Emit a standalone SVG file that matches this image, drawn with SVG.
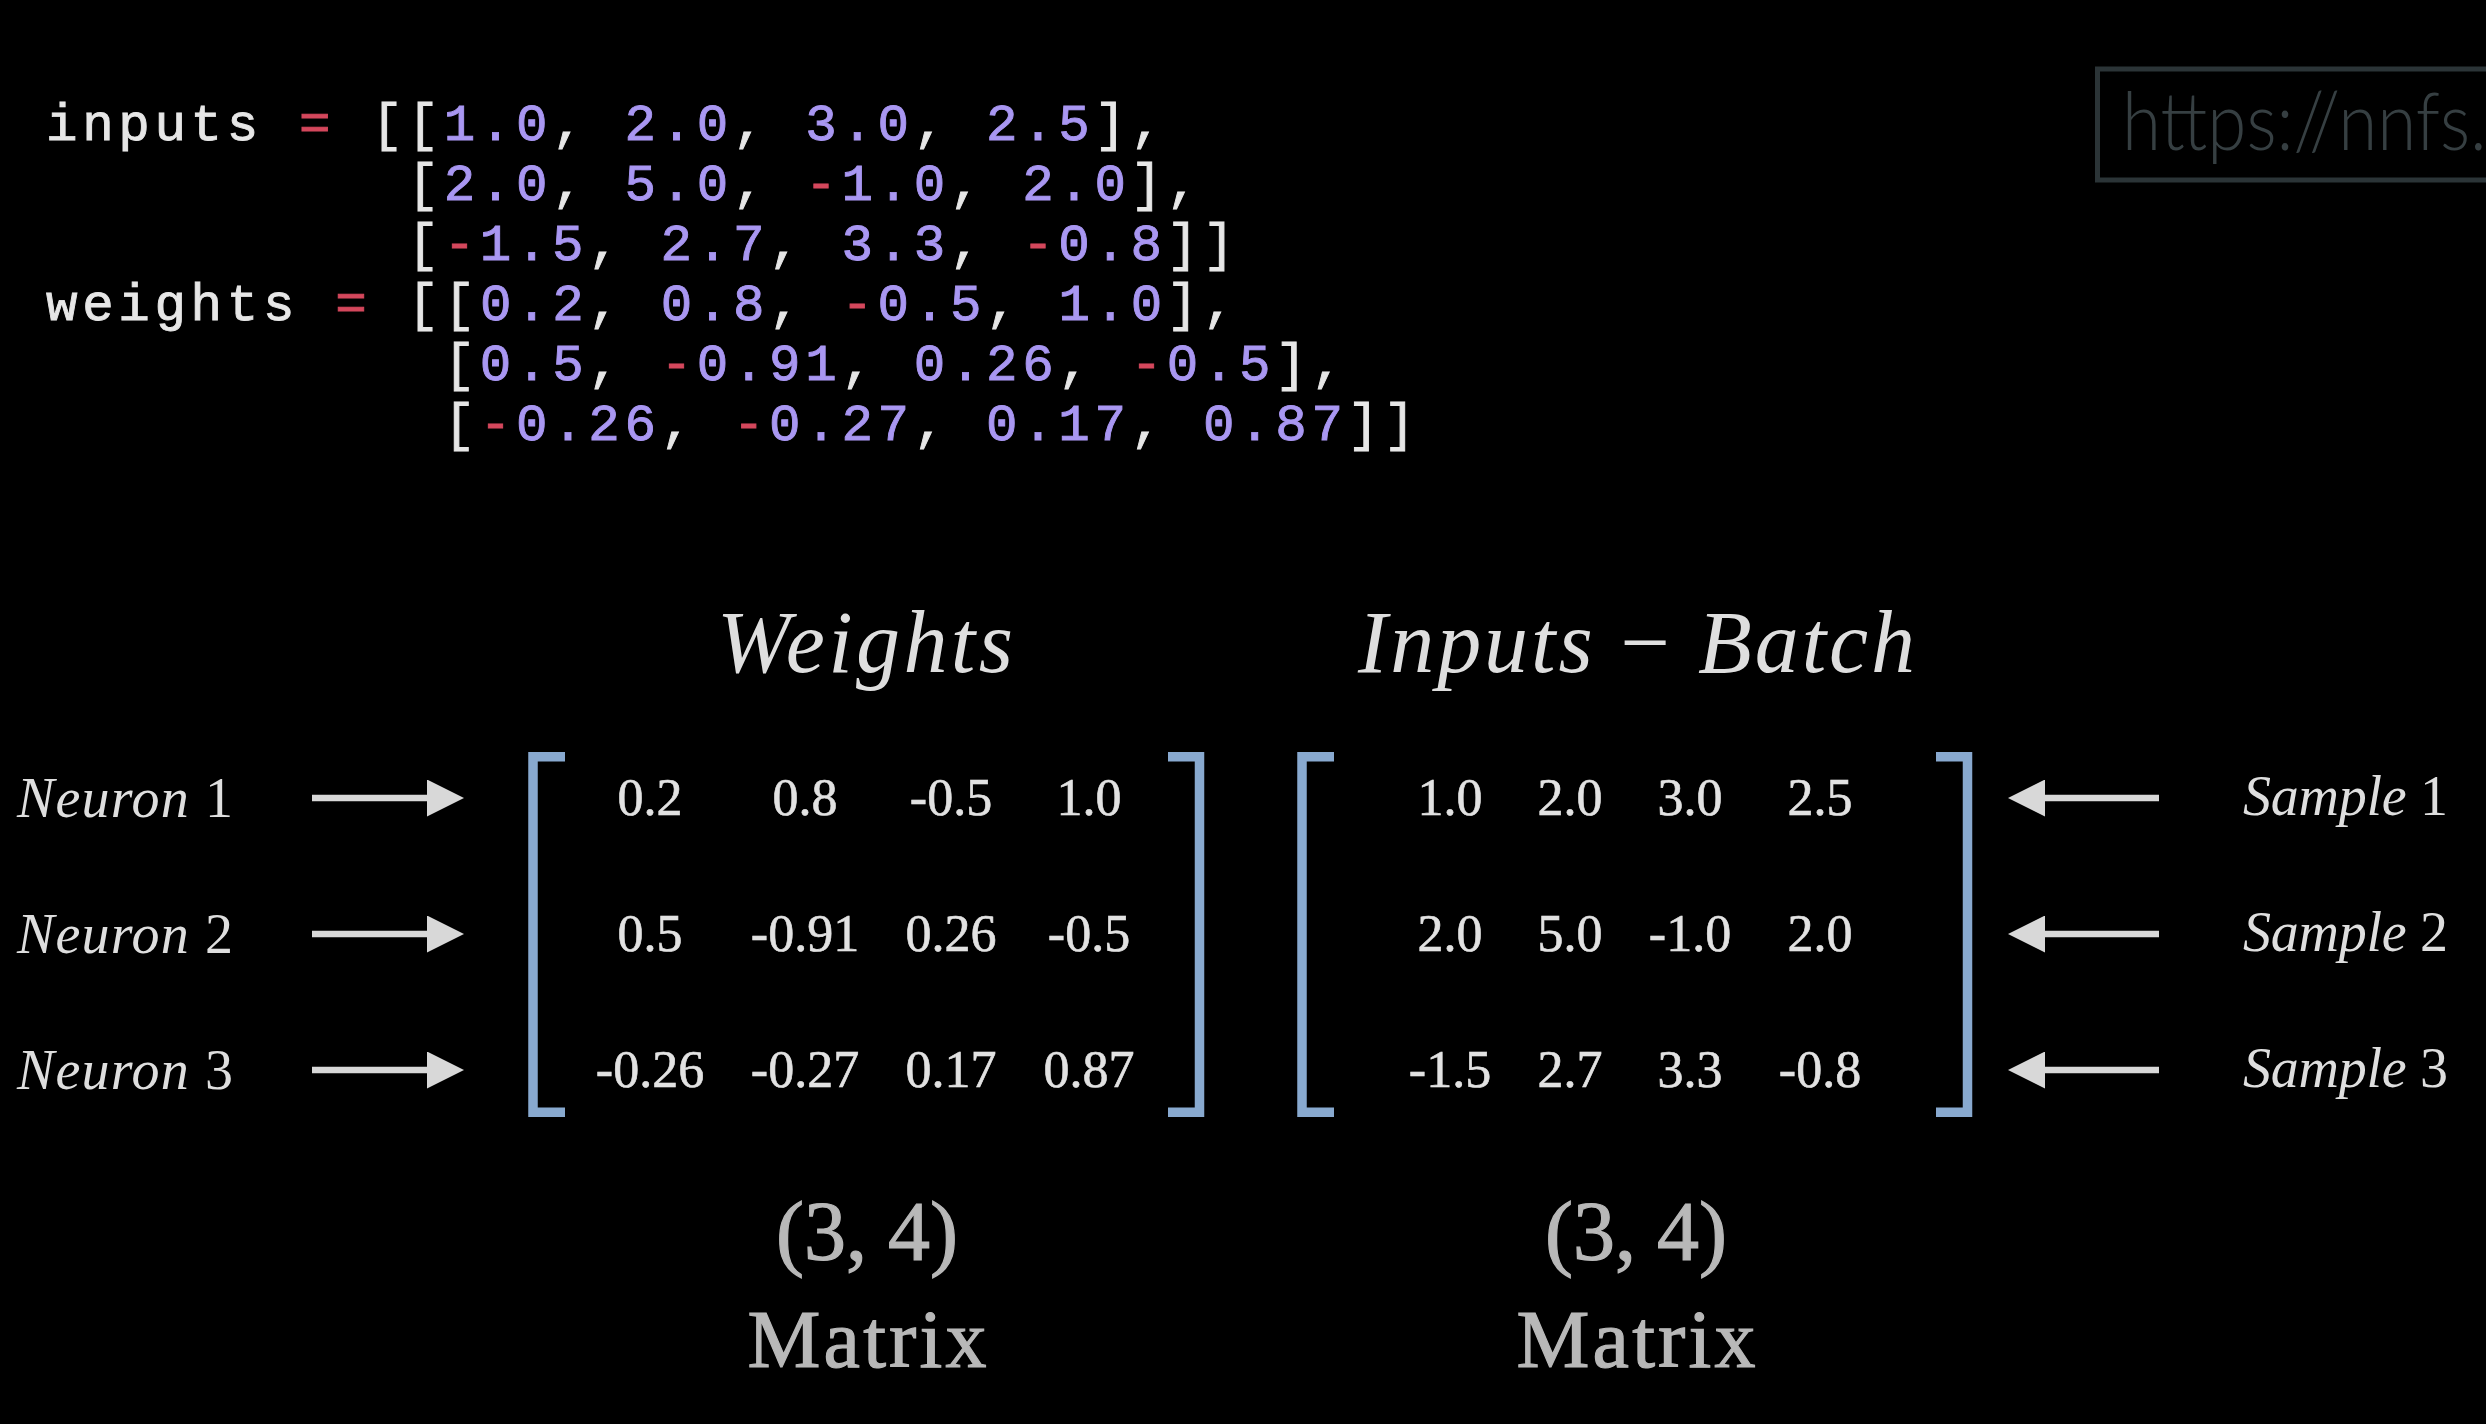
<svg xmlns="http://www.w3.org/2000/svg" width="2486" height="1424" viewBox="0 0 2486 1424">
<defs>
<style>
.code{font-family:"Liberation Mono",monospace;font-size:52.5px;letter-spacing:4.65px;fill:#e6e6e6;stroke:#e6e6e6;stroke-width:0.9}
.num{fill:#a997f2;stroke:#a997f2}
.op{fill:#d4475c;stroke:#d4475c}
.mi{font-family:"Liberation Serif",serif;font-style:italic;fill:#dedede}
.rm{font-style:normal}
.cell{font-family:"Liberation Serif",serif;font-size:52px;fill:#e2e2e2;stroke:#e2e2e2;stroke-width:0.6;text-anchor:middle}
.brk{fill:none;stroke:#88a9cf;stroke-width:9.5}
.arrow{stroke:#d8d8d8;stroke-width:6.5;fill:none}
.shape{font-family:"Liberation Serif",serif;fill:#b8b8b8;stroke:#b8b8b8;stroke-width:1.2;text-anchor:middle}
</style>
<marker id="head" viewBox="0 0 37 37" markerWidth="37" markerHeight="37" markerUnits="userSpaceOnUse" refX="0" refY="18.5" orient="auto"><path d="M0,0 L37,18.5 L0,37 Z" fill="#d8d8d8"/></marker>
</defs>
<rect width="2486" height="1424" fill="#000"/>

<g id="watermark">
<rect x="2097.5" y="69" width="420" height="111" fill="none" stroke="#2b3437" stroke-width="5"/>
<text x="2122" y="150" font-family="Lato, 'Open Sans', sans-serif" font-weight="300" font-size="80" fill="#363f42" textLength="420" lengthAdjust="spacingAndGlyphs">https://nnfs.io</text>
</g>

<g id="code" class="code" xml:space="preserve">
<text x="46" y="140">inputs <tspan class="op">=</tspan> [[<tspan class="num">1.0</tspan>, <tspan class="num">2.0</tspan>, <tspan class="num">3.0</tspan>, <tspan class="num">2.5</tspan>],</text>
<text x="407.5" y="200">[<tspan class="num">2.0</tspan>, <tspan class="num">5.0</tspan>, <tspan class="op">-</tspan><tspan class="num">1.0</tspan>, <tspan class="num">2.0</tspan>],</text>
<text x="407.5" y="260">[<tspan class="op">-</tspan><tspan class="num">1.5</tspan>, <tspan class="num">2.7</tspan>, <tspan class="num">3.3</tspan>, <tspan class="op">-</tspan><tspan class="num">0.8</tspan>]]</text>
<text x="46" y="320">weights <tspan class="op">=</tspan> [[<tspan class="num">0.2</tspan>, <tspan class="num">0.8</tspan>, <tspan class="op">-</tspan><tspan class="num">0.5</tspan>, <tspan class="num">1.0</tspan>],</text>
<text x="443.7" y="380">[<tspan class="num">0.5</tspan>, <tspan class="op">-</tspan><tspan class="num">0.91</tspan>, <tspan class="num">0.26</tspan>, <tspan class="op">-</tspan><tspan class="num">0.5</tspan>],</text>
<text x="443.7" y="440">[<tspan class="op">-</tspan><tspan class="num">0.26</tspan>, <tspan class="op">-</tspan><tspan class="num">0.27</tspan>, <tspan class="num">0.17</tspan>, <tspan class="num">0.87</tspan>]]</text>
</g>

<g id="weights-title"><text class="mi" x="717" y="672" font-size="88" textLength="296" lengthAdjust="spacing">Weights</text></g>
<g id="inputs-title"><text class="mi" x="1358" y="672" font-size="88" textLength="557" lengthAdjust="spacing">Inputs <tspan class="rm">−</tspan> Batch</text></g>

<g id="neuron-1"><text class="mi" x="17" y="817" font-size="56" textLength="216" lengthAdjust="spacing">Neuron<tspan class="rm"> 1</tspan></text></g>
<g id="neuron-2"><text class="mi" x="17" y="953" font-size="56" textLength="216" lengthAdjust="spacing">Neuron<tspan class="rm"> 2</tspan></text></g>
<g id="neuron-3"><text class="mi" x="17" y="1089" font-size="56" textLength="216" lengthAdjust="spacing">Neuron<tspan class="rm"> 3</tspan></text></g>

<g id="sample-1"><text class="mi" x="2243" y="815" font-size="56" textLength="205" lengthAdjust="spacing">Sample<tspan class="rm"> 1</tspan></text></g>
<g id="sample-2"><text class="mi" x="2243" y="951" font-size="56" textLength="205" lengthAdjust="spacing">Sample<tspan class="rm"> 2</tspan></text></g>
<g id="sample-3"><text class="mi" x="2243" y="1087" font-size="56" textLength="205" lengthAdjust="spacing">Sample<tspan class="rm"> 3</tspan></text></g>

<g id="weights-matrix">
<path class="brk" d="M565,756.75 H533 V1112.25 H565"/>
<path class="brk" d="M1168,756.75 H1199.5 V1112.25 H1168"/>
<g class="cell">
<text x="650" y="815">0.2</text><text x="805" y="815">0.8</text><text x="951" y="815">-0.5</text><text x="1089" y="815">1.0</text>
<text x="650" y="951">0.5</text><text x="805" y="951">-0.91</text><text x="951" y="951">0.26</text><text x="1089" y="951">-0.5</text>
<text x="650" y="1087">-0.26</text><text x="805" y="1087">-0.27</text><text x="951" y="1087">0.17</text><text x="1089" y="1087">0.87</text>
</g>
</g>

<g id="inputs-matrix">
<path class="brk" d="M1334,756.75 H1302 V1112.25 H1334"/>
<path class="brk" d="M1936,756.75 H1967.5 V1112.25 H1936"/>
<g class="cell">
<text x="1450" y="815">1.0</text><text x="1570" y="815">2.0</text><text x="1690" y="815">3.0</text><text x="1820" y="815">2.5</text>
<text x="1450" y="951">2.0</text><text x="1570" y="951">5.0</text><text x="1690" y="951">-1.0</text><text x="1820" y="951">2.0</text>
<text x="1450" y="1087">-1.5</text><text x="1570" y="1087">2.7</text><text x="1690" y="1087">3.3</text><text x="1820" y="1087">-0.8</text>
</g>
</g>

<g id="weights-shape" class="shape">
<text x="867" y="1260" font-size="84">(3, 4)</text>
<text x="867" y="1367" font-size="82" textLength="239" lengthAdjust="spacing">Matrix</text>
</g>
<g id="inputs-shape" class="shape">
<text x="1636" y="1260" font-size="84">(3, 4)</text>
<text x="1636" y="1367" font-size="82" textLength="239" lengthAdjust="spacing">Matrix</text>
</g>

<g id="connectors">
<line class="arrow" x1="312" y1="798" x2="427" y2="798" marker-end="url(#head)"/>
<line class="arrow" x1="312" y1="934" x2="427" y2="934" marker-end="url(#head)"/>
<line class="arrow" x1="312" y1="1070" x2="427" y2="1070" marker-end="url(#head)"/>
<line class="arrow" x1="2159" y1="798" x2="2045" y2="798" marker-end="url(#head)"/>
<line class="arrow" x1="2159" y1="934" x2="2045" y2="934" marker-end="url(#head)"/>
<line class="arrow" x1="2159" y1="1070" x2="2045" y2="1070" marker-end="url(#head)"/>
</g>
</svg>
